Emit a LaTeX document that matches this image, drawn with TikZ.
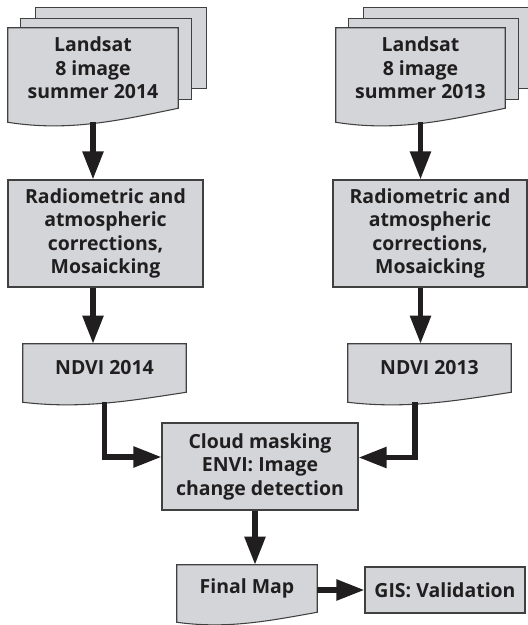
\documentclass[tikz,border=0pt]{standalone}
\usepackage{fontspec}
\setmainfont{Open Sans}
\usepackage{tikz}
\usetikzlibrary{arrows.meta, calc, backgrounds}

\newcommand{\pxl}{0.75pt}
\definecolor{boxgray}{RGB}{212,213,216}
\definecolor{inkdark}{RGB}{32,30,31}

% document outline with a wavy foot: node name, rise of the right corner
\newcommand{\docshape}[2]{%
  \path[boxfill] (#1.north west) -- (#1.north east) -- (#1.south east)
    .. controls ($(#1.south west)!0.66!(#1.south east)+(0,0.85*#2)$)
    and ($(#1.south west)!0.36!(#1.south east)+(0,1.7*#2)$)
    .. ($(#1.south west)+(0,#2)$) -- cycle;
  \coordinate (#1-foot) at ($(#1.south)+(0,#2)$);
}

\begin{document}
\begin{tikzpicture}[x=\pxl, y=-\pxl,
    every node/.style={font=\bfseries\fontsize{14.6}{17.6}\selectfont, text=inkdark, align=center, inner sep=0pt},
    boxsize/.style 2 args={minimum width=#1*\pxl, minimum height=#2*\pxl},
    boxfill/.style={draw=inkdark!85, line width=0.8pt, fill=boxgray},
    procbox/.style={boxfill},
    flow/.style={draw=inkdark, line width=4pt, -{Triangle[length=21pt,width=15pt]}}]
  \useasboundingbox (0,0) rectangle (528,625);

  % Input images
  \node[boxsize={170}{80}] (doc14) at (93,68) {Landsat\\8 image\\summer 2014};
  \node[boxsize={169}{80}] (doc13) at (420.5,68) {Landsat\\8 image\\summer 2013};

  % Preprocessing
  \node[procbox, boxsize={195}{107}] (proc14) at (105.5,233.5) {Radiometric and\\atmospheric\\corrections,\\Mosaicking};
  \node[procbox, boxsize={194}{107}] (proc13) at (430,233.5) {Radiometric and\\atmospheric\\corrections,\\Mosaicking};

  % NDVI layers
  \node[boxsize={163}{48}] (ndvi14) at (104.5,368) {NDVI 2014};
  \node[boxsize={163}{48}] (ndvi13) at (429.5,368) {NDVI 2013};

  % Change detection and output
  \node[procbox, boxsize={196}{87}] (cloud) at (260,466.5) {Cloud masking\\ENVI: Image\\change detection};
  \node[boxsize={140}{47}] (final) at (247,588.5) {Final Map};
  \node[procbox, boxsize={160}{46}] (gis) at (445,590) {GIS: Validation};
  \coordinate (cloudout) at ($(cloud.south)+(-5,0)$);

  % Page stacks and document outlines
  \begin{scope}[on background layer]
    \foreach \d in {doc14,doc13} {
      \foreach \dx/\dy in {28/20,13/9} {
        \draw[boxfill] ([shift={(\dx,-\dy)}]\d.north west) rectangle ([shift={(\dx,-\dy)}]\d.south east);
      }
      \docshape{\d}{14}
    }
    \docshape{ndvi14}{10}
    \docshape{ndvi13}{10}
    \docshape{final}{10}
  \end{scope}

  % Flow
  \draw[flow] (doc14-foot) -- (doc14-foot |- proc14.north);
  \draw[flow] (doc13-foot) -- (doc13-foot |- proc13.north);
  \draw[flow] (doc14-foot |- proc14.south) -- (doc14-foot |- ndvi14.north);
  \draw[flow] (doc13-foot |- proc13.south) -- (doc13-foot |- ndvi13.north);
  \draw[flow] (ndvi14-foot) |- ($(cloud.west)+(0,-9.5)$);
  \draw[flow] ($(ndvi13-foot)+(-14.5,0)$) |- ($(cloud.east)+(0,-9)$);
  \draw[flow] (cloudout) -- (cloudout |- final.north);
  \draw[flow] (final.east |- gis) -- (gis);
\end{tikzpicture}
\end{document}
